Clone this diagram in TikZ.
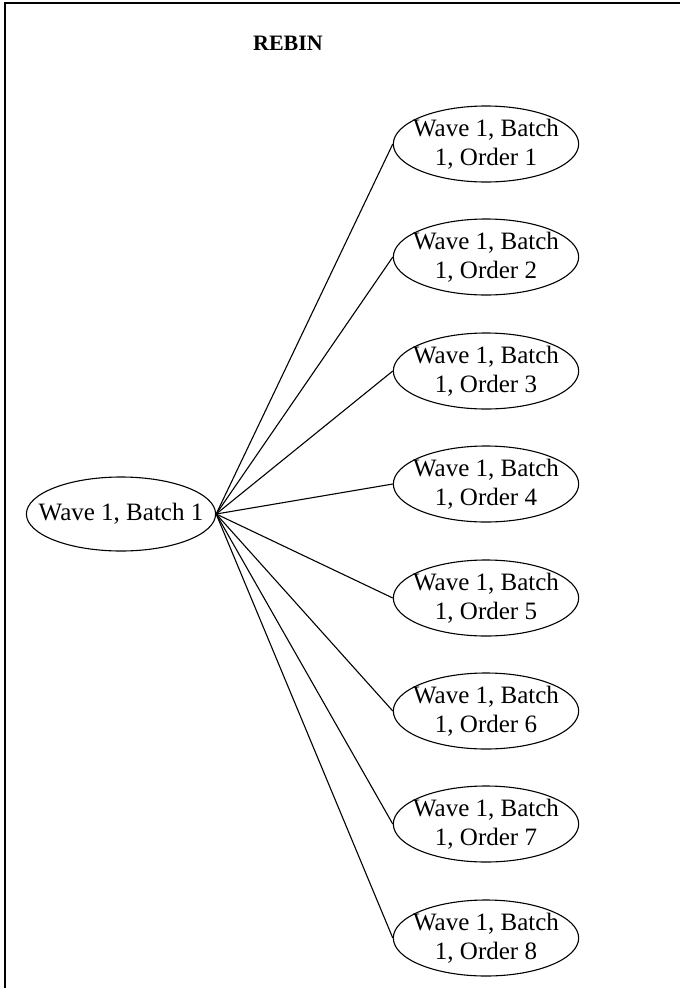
\documentclass[tikz,border=0pt]{standalone}
\usepackage{fontspec}
\setmainfont{Liberation Serif}
\usetikzlibrary{shapes.geometric}
\begin{document}
\begin{tikzpicture}[x=1pt,y=-1pt,
  bubble/.style={draw, ellipse, line width=1.1pt, inner ysep=0pt,
    align=center, font=\fontsize{25}{29}\selectfont},
  leaf/.style={bubble, inner xsep=-7.4pt, minimum height=76pt},
  root/.style={bubble, inner xsep=-15.4pt, minimum height=74pt},
  link/.style={line width=1.1pt}]
\useasboundingbox (0,0) rectangle (680,988);
% frame edges
\coordinate (tl) at (5,3);
\coordinate (tr) at (680,3);
\coordinate (bl) at (5,988);
\draw[line width=1.6pt] (tr) -- (tl) -- (bl);
% heading
\node[font=\fontsize{22}{26}\selectfont\bfseries] (title) at (288,43) {REBIN};
% batch node
\node[root] (batch) at (121,514) {Wave 1, Batch 1};
% order nodes
\foreach \i/\y in {1/144,2/257,3/371,4/484,5/598,6/711,7/824,8/938}{
  \node[leaf] (o\i) at (486,\y) {Wave 1, Batch\\1, Order \i};
  \draw[link] (batch.east) -- (o\i.west);
}
\end{tikzpicture}
\end{document}
